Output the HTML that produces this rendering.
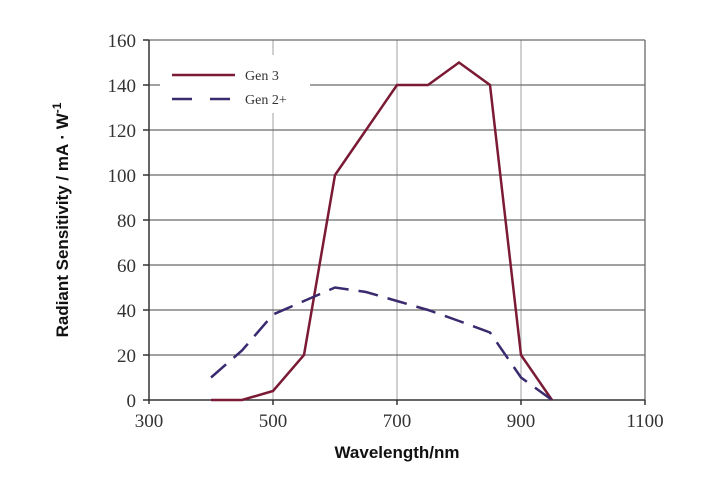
<!DOCTYPE html>
<html><head><style>body{margin:0;background:#fff}</style></head><body>
<svg width="708" height="482" xmlns="http://www.w3.org/2000/svg">
<rect width="708" height="482" fill="#fff"/>
<g stroke="#b0b0b0" stroke-width="1.2">
<line x1="273" y1="40" x2="273" y2="400"/><line x1="397" y1="40" x2="397" y2="400"/><line x1="521" y1="40" x2="521" y2="400"/>
</g>
<g stroke="#6a6a6a" stroke-width="1.3">
<line x1="149" y1="40" x2="645" y2="40"/><line x1="149" y1="85" x2="645" y2="85"/><line x1="149" y1="130" x2="645" y2="130"/><line x1="149" y1="175" x2="645" y2="175"/><line x1="149" y1="220" x2="645" y2="220"/><line x1="149" y1="265" x2="645" y2="265"/><line x1="149" y1="310" x2="645" y2="310"/><line x1="149" y1="355" x2="645" y2="355"/>
<line x1="645" y1="40" x2="645" y2="400"/>
</g>
<g stroke="#333" stroke-width="1.5">
<line x1="149" y1="40" x2="149" y2="404"/><line x1="143" y1="400" x2="645" y2="400"/>
<line x1="143" y1="40" x2="149" y2="40"/><line x1="143" y1="85" x2="149" y2="85"/><line x1="143" y1="130" x2="149" y2="130"/><line x1="143" y1="175" x2="149" y2="175"/><line x1="143" y1="220" x2="149" y2="220"/><line x1="143" y1="265" x2="149" y2="265"/><line x1="143" y1="310" x2="149" y2="310"/><line x1="143" y1="355" x2="149" y2="355"/>
<line x1="273" y1="400" x2="273" y2="405"/><line x1="397" y1="400" x2="397" y2="405"/><line x1="521" y1="400" x2="521" y2="405"/><line x1="645" y1="400" x2="645" y2="405"/>
</g>
<rect x="160" y="55" width="150" height="58" fill="#fff"/>
<polyline fill="none" stroke="#7a1a35" stroke-width="2.5" points="211,400 242,400 273,391 304,355 335,175 366,130 397,85 428,85 459,62.5 490,85 521,355 552,400"/>
<polyline fill="none" stroke="#3a2a6e" stroke-width="2.5" stroke-dasharray="20,10" points="211,377.5 242,350.5 273,314.5 304,301 335,287.5 366,292 397,301 428,310 459,321 490,332.5 521,377.5 552,400"/>
<line x1="172" y1="75" x2="235" y2="75" stroke="#7a1a35" stroke-width="2.5"/>
<line x1="172" y1="99" x2="235" y2="99" stroke="#3a2a6e" stroke-width="2.5" stroke-dasharray="20,18"/>
<g font-family="Liberation Serif, serif" font-size="14" fill="#333">
<text x="245" y="80">Gen 3</text><text x="245" y="104">Gen 2+</text>
</g>
<g font-family="Liberation Serif, serif" font-size="19" fill="#333" text-anchor="end">
<text x="136" y="47">160</text><text x="136" y="92">140</text><text x="136" y="137">120</text><text x="136" y="182">100</text><text x="136" y="227">80</text><text x="136" y="272">60</text><text x="136" y="317">40</text><text x="136" y="362">20</text><text x="136" y="407">0</text>
</g>
<g font-family="Liberation Serif, serif" font-size="19" fill="#333" text-anchor="middle">
<text x="149" y="427">300</text><text x="273" y="427">500</text><text x="397" y="427">700</text><text x="521" y="427">900</text><text x="645" y="427">1100</text>
</g>
<text x="397" y="458" text-anchor="middle" font-family="Liberation Sans, sans-serif" font-weight="bold" font-size="17" fill="#111">Wavelength/nm</text>
<text transform="translate(68,220) rotate(-90)" text-anchor="middle" font-family="Liberation Sans, sans-serif" font-weight="bold" font-size="17" fill="#111">Radiant Sensitivity / mA · W<tspan dy="-7" font-size="12">-1</tspan></text>
</svg>
</body></html>
